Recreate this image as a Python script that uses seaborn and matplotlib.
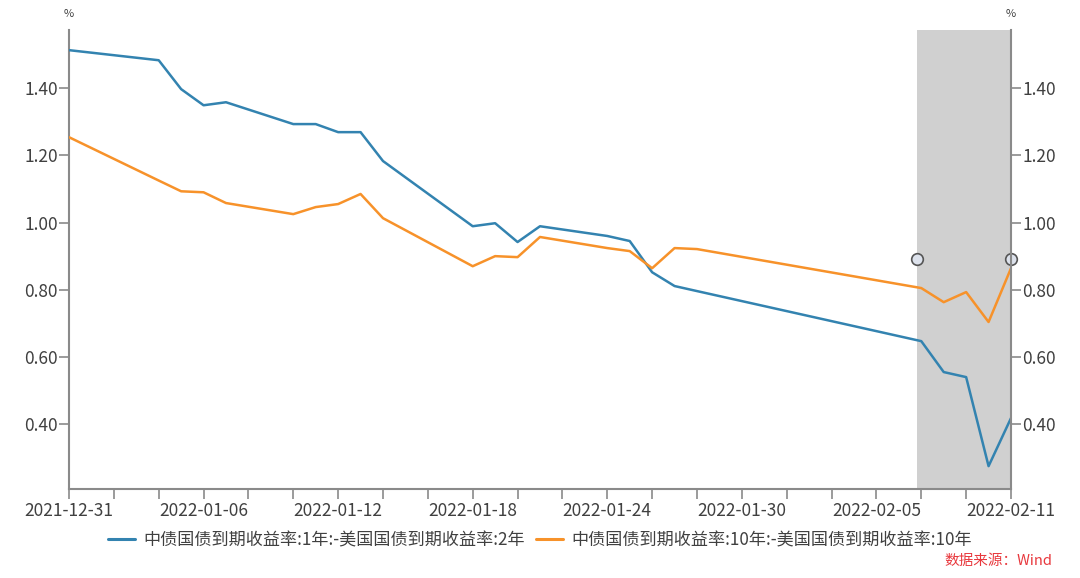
import matplotlib
matplotlib.use("Agg")
import matplotlib.pyplot as plt
import pandas as pd
import seaborn as sns

# trading days shown in the chart
dates = [
    "2021-12-31", "2022-01-04", "2022-01-05", "2022-01-06", "2022-01-07",
    "2022-01-10", "2022-01-11", "2022-01-12", "2022-01-13", "2022-01-14",
    "2022-01-18", "2022-01-19", "2022-01-20", "2022-01-21", "2022-01-24",
    "2022-01-25", "2022-01-26", "2022-01-27", "2022-01-28", "2022-02-07",
    "2022-02-08", "2022-02-09", "2022-02-10", "2022-02-11",
]
spread_1y_2y = [
    1.513, 1.483, 1.397, 1.349, 1.358,
    1.293, 1.293, 1.269, 1.269, 1.183,
    0.989, 0.998, 0.942, 0.989, 0.960,
    0.945, 0.852, 0.811, 0.796, 0.647,
    0.555, 0.540, 0.275, 0.418,
]
spread_10y_10y = [
    1.254, 1.125, 1.093, 1.090, 1.058,
    1.025, 1.046, 1.055, 1.085, 1.013,
    0.870, 0.900, 0.897, 0.957, 0.924,
    0.915, 0.864, 0.924, 0.921, 0.805,
    0.763, 0.793, 0.704, 0.864,
]
series_names = [
    "中债国债到期收益率:1年:-美国国债到期收益率:2年",
    "中债国债到期收益率:10年:-美国国债到期收益率:10年",
]
series_colors = ["#3383B0", "#F7922A"]
y_ticks = [0.40, 0.60, 0.80, 1.00, 1.20, 1.40]
x_labels = ["2021-12-31", "2022-01-06", "2022-01-12", "2022-01-18",
            "2022-01-24", "2022-01-30", "2022-02-05", "2022-02-11"]
x_start, x_end = "2021-12-31 00:00", "2022-02-11 00:00"
shade_start, shade_end = "2022-02-06 19:00", "2022-02-11 00:00"
marker_dates = ["2022-02-06 19:00", "2022-02-11 00:00"]
marker_values = [0.891, 0.891]
source_text = "数据来源：Wind"

df = pd.DataFrame({
    "date": pd.to_datetime(dates * 2),
    "value": spread_1y_2y + spread_10y_10y,
    "series": [series_names[0]] * len(dates) + [series_names[1]] * len(dates),
})

sns.set_theme(style="white")
plt.rcParams["font.family"] = ["Noto Sans CJK SC", "DejaVu Sans"]
text_color = "#404040"
spine_color = "#8a8a8a"

fig = plt.figure(figsize=(10.8, 5.78), dpi=100)
ax = fig.add_axes([69 / 1080, 1 - 489 / 578, 942 / 1080, 459 / 578])

ax.axvspan(pd.Timestamp(shade_start), pd.Timestamp(shade_end), color="#D0D0D0", lw=0, zorder=0)

sns.lineplot(
    data=df, x="date", y="value", hue="series", hue_order=series_names,
    palette=series_colors, linewidth=1.8, ax=ax, legend=False, zorder=3,
)

ax.scatter([pd.Timestamp(d) for d in marker_dates], marker_values, s=70, facecolor="#DDE2EC",
           edgecolor="#555555", linewidth=1.2, zorder=5, clip_on=False)

ylim = (0.207, 1.573)
ax.set_xlim(pd.Timestamp(x_start), pd.Timestamp(x_end))
ax.set_ylim(*ylim)
ax.set_xlabel("")
ax.set_ylabel("")

ax.set_xticks(pd.to_datetime(x_labels))
ax.set_xticklabels(x_labels)
ax.set_xticks(pd.date_range(x_start, x_end, freq="2D"), minor=True)
ax.set_yticks(y_ticks)
ax.set_yticklabels([f"{v:.2f}" for v in y_ticks])

for side in ["top", "right"]:
    ax.spines[side].set_visible(False)
for side in ["left", "bottom"]:
    ax.spines[side].set_color(spine_color)
    ax.spines[side].set_linewidth(1.5)

ax.tick_params(axis="x", which="both", direction="out", length=7, width=1.2,
               color=spine_color, labelsize=12.5, labelcolor=text_color, pad=2, bottom=True)
ax.tick_params(axis="y", direction="out", length=7, width=1.2, color=spine_color,
               labelsize=12.5, labelcolor=text_color, pad=1, left=True)

# right axis mirrors the left one
ax2 = ax.twinx()
ax2.set_ylim(*ylim)
ax2.set_yticks(y_ticks)
ax2.set_yticklabels([f"{v:.2f}" for v in y_ticks])
for side in ["top", "left", "bottom"]:
    ax2.spines[side].set_visible(False)
ax2.spines["right"].set_color(spine_color)
ax2.spines["right"].set_linewidth(1.5)
ax2.tick_params(axis="y", direction="out", length=7, width=1.2, color=spine_color,
                labelsize=12.5, labelcolor=text_color, pad=1, right=True)
ax2.grid(False)

fig.text(69 / 1080, 1 - 14 / 578, "%", ha="center", va="center", fontsize=8, color=text_color)
fig.text(1011 / 1080, 1 - 14 / 578, "%", ha="center", va="center", fontsize=8, color=text_color)

handles = [plt.Line2D([], [], color=c, lw=2.2) for c in series_colors]
fig.legend(handles, series_names, loc="center", bbox_to_anchor=(0.5, 1 - 540 / 578),
           ncol=2, frameon=False, fontsize=12.3, handlelength=1.6, handletextpad=0.5,
           columnspacing=0.6, labelcolor=text_color)

fig.text(1052 / 1080, 1 - 561 / 578, source_text, ha="right", va="center",
         fontsize=10.5, color="#E8383D")

fig.savefig("out.png", dpi=100)
